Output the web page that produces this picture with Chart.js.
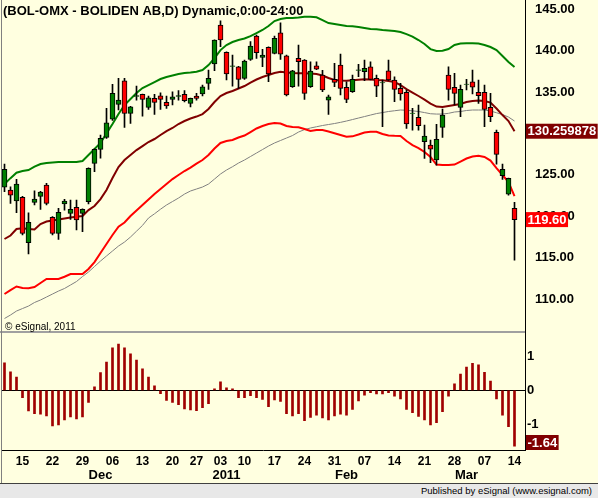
<!DOCTYPE html>
<html>
<head>
<meta charset="utf-8">
<script src="https://cdn.jsdelivr.net/npm/chart.js@4.4.0/dist/chart.umd.min.js"></script>
<style>
  html, body { margin: 0; padding: 0; background: #FFFFE0; }
  #wrap { position: relative; width: 598px; height: 498px; overflow: hidden; background: #FFFFE0; }
  canvas { position: absolute; left: 0; }
  #priceChart { top: 0; }
  #oscChart { top: 333px; }
  #leftEdge { position: absolute; left: 1px; top: 0; width: 1px; height: 483px; background: #808080; }
  #footer { position: absolute; left: 0; top: 483px; width: 598px; height: 15px; box-sizing: border-box;
    border-top: 1px solid #404040; background: #E8E8E8; text-align: right; padding-right: 6px;
    font: 9.5px "Liberation Sans", Arial, sans-serif; line-height: 14px; color: #000; }
</style>
</head>
<body>
<div id="wrap">
  <canvas id="priceChart" width="598" height="333"></canvas>
  <canvas id="oscChart" width="598" height="152"></canvas>
  <div id="leftEdge"></div>
  <div id="footer">Published by eSignal (www.esignal.com)</div>
</div>
<script>
const dates = [
  '2010-11-10','2010-11-11','2010-11-12','2010-11-15','2010-11-16','2010-11-17','2010-11-18','2010-11-19','2010-11-22','2010-11-23',
  '2010-11-24','2010-11-25','2010-11-26','2010-11-29','2010-11-30','2010-12-01','2010-12-02','2010-12-03','2010-12-06','2010-12-07',
  '2010-12-08','2010-12-09','2010-12-10','2010-12-13','2010-12-14','2010-12-15','2010-12-16','2010-12-17','2010-12-20','2010-12-21',
  '2010-12-22','2010-12-23','2010-12-27','2010-12-28','2010-12-29','2010-12-30','2011-01-03','2011-01-04','2011-01-05','2011-01-07',
  '2011-01-10','2011-01-11','2011-01-12','2011-01-13','2011-01-14','2011-01-17','2011-01-18','2011-01-19','2011-01-20','2011-01-21',
  '2011-01-24','2011-01-25','2011-01-26','2011-01-27','2011-01-28','2011-01-31','2011-02-01','2011-02-02','2011-02-03','2011-02-04',
  '2011-02-07','2011-02-08','2011-02-09','2011-02-10','2011-02-11','2011-02-14','2011-02-15','2011-02-16','2011-02-17','2011-02-18',
  '2011-02-21','2011-02-22','2011-02-23','2011-02-24','2011-02-25','2011-02-28','2011-03-01','2011-03-02','2011-03-03','2011-03-04',
  '2011-03-07','2011-03-08','2011-03-09','2011-03-10','2011-03-11','2011-03-14'
];

const open = [
  123.50,123.17,121.84,122.29,116.81,121.68,122.41,123.77,119.87,117.94,
  121.48,120.36,121.08,120.36,121.76,126.39,128.08,129.52,131.70,133.50,
  136.35,132.42,134.45,134.71,133.14,134.23,134.54,133.75,134.11,134.45,
  134.71,133.62,134.51,134.75,136.04,138.37,143.07,139.78,138.08,138.04,
  136.64,138.93,141.74,139.17,140.38,139.66,142.14,139.37,135.63,139.05,
  138.85,135.63,138.16,137.04,134.02,136.52,138.24,135.56,135.02,137.60,
  137.44,138.04,136.64,136.08,137.56,136.44,135.43,134.95,132.40,131.94,
  128.99,128.59,126.79,130.73,137.04,135.56,133.14,135.90,136.23,134.95,
  134.95,133.14,130.13,124.89,122.68,120.96
];
const high = [
  126.30,123.56,124.46,122.40,120.43,123.08,123.00,123.97,119.95,120.96,
  122.04,121.96,121.96,120.90,125.85,128.15,129.80,133.02,135.92,136.64,
  136.64,133.25,135.71,134.75,134.50,134.71,134.90,134.50,135.02,135.15,
  135.15,134.26,134.83,135.83,137.64,141.30,143.59,139.85,139.45,138.10,
  138.85,141.06,141.86,140.14,140.45,141.74,143.35,139.45,137.60,140.66,
  138.90,138.64,138.64,137.60,134.63,138.45,139.57,136.23,137.04,138.33,
  138.85,138.64,137.04,136.44,138.85,136.83,136.04,135.23,133.02,133.42,
  131.01,129.20,131.09,132.94,138.04,137.24,135.83,136.52,137.64,136.44,
  135.83,134.83,130.40,126.30,124.60,121.68
];
const low = [
  122.96,121.56,120.43,117.74,115.45,121.36,120.84,121.36,117.74,117.22,
  120.75,119.63,118.34,118.13,121.48,125.37,127.00,129.40,131.55,132.82,
  130.73,131.21,134.02,132.09,132.90,132.30,132.90,133.00,133.42,134.02,
  133.80,133.20,134.02,134.51,135.31,137.56,140.45,136.44,135.71,135.43,
  136.50,138.80,139.05,138.04,136.23,139.60,138.93,134.51,135.55,135.71,
  134.11,135.55,137.70,135.02,132.30,135.63,134.63,133.70,134.95,136.83,
  136.35,136.45,134.42,130.80,136.40,133.82,134.02,130.61,130.40,130.40,
  126.99,126.46,126.18,129.52,134.02,133.42,132.01,135.23,134.75,133.62,
  130.80,131.41,126.30,124.46,122.56,114.72
];
const close = [
  125.66,122.56,123.89,117.94,119.27,122.08,122.93,121.56,117.94,120.48,
  121.84,120.84,119.55,120.84,125.78,128.08,129.40,131.28,134.83,134.02,
  132.42,133.21,134.55,134.11,134.30,133.75,134.11,133.30,134.42,134.55,
  133.94,134.23,134.23,135.63,136.64,141.26,141.26,137.16,138.15,136.52,
  138.73,140.54,139.73,139.45,137.16,141.47,139.57,134.63,137.56,138.64,
  134.83,137.52,137.76,135.23,134.42,136.16,135.43,134.11,136.52,137.68,
  137.85,136.52,135.71,136.14,136.44,135.31,134.75,131.13,132.44,130.92,
  129.68,128.11,129.28,132.21,135.31,134.83,135.31,135.95,135.56,134.54,
  132.90,132.01,127.47,125.66,124.58,119.60
];

const upperBand = [
  123.90,124.60,125.25,125.45,125.58,125.98,126.30,126.42,126.50,126.54,
  126.54,126.54,126.54,126.66,127.39,128.11,128.84,130.00,131.13,132.33,
  133.42,134.14,134.87,135.47,135.83,136.19,136.56,136.80,136.98,137.16,
  137.28,137.34,137.44,137.64,138.24,139.09,140.05,140.66,141.02,141.26,
  141.44,141.74,142.10,142.47,142.95,143.55,143.79,143.91,143.91,143.97,
  144.07,144.07,144.00,143.67,143.31,143.19,143.07,142.95,142.91,142.83,
  142.71,142.59,142.55,142.47,142.41,142.35,142.23,141.98,141.68,141.26,
  140.78,140.17,139.93,139.97,140.17,140.66,140.84,140.86,140.86,140.84,
  140.66,140.42,140.05,139.33,138.61,138.00
];
const midBand = [
  117.26,117.68,118.46,118.55,118.46,118.40,119.07,119.37,119.49,119.61,
  119.73,119.85,119.93,120.03,120.75,121.24,122.08,123.17,124.61,125.94,
  126.79,127.39,127.99,128.47,128.96,129.32,129.80,130.28,130.65,131.13,
  131.49,131.79,132.03,132.33,132.94,133.78,134.51,134.87,135.11,135.41,
  135.71,136.13,136.50,136.80,137.04,137.28,137.42,137.34,137.28,137.24,
  137.24,137.22,137.16,136.98,136.68,136.44,136.38,136.35,136.40,136.46,
  136.52,136.50,136.44,136.41,136.31,136.19,135.83,135.35,134.93,134.51,
  134.08,133.60,133.24,133.18,133.30,133.42,133.54,133.78,133.90,133.96,
  133.90,133.72,133.00,132.21,131.49,130.259878
];
const lowerBand = [
  110.62,111.10,111.53,111.35,111.31,111.47,111.95,112.43,112.43,112.43,
  112.71,113.03,113.03,113.03,113.64,114.48,115.57,116.65,117.74,118.74,
  119.25,120.03,120.69,121.36,122.02,122.68,123.29,123.89,124.49,124.98,
  125.46,125.88,126.36,126.79,127.39,128.17,128.84,129.08,129.20,129.50,
  129.74,130.16,130.59,130.89,131.13,131.25,131.19,130.89,130.77,130.73,
  130.52,130.28,130.40,130.40,130.22,130.01,129.80,129.60,129.64,129.86,
  130.10,130.20,130.20,129.92,129.74,129.70,129.68,129.08,128.59,128.23,
  127.75,127.15,126.24,126.18,126.18,126.24,126.60,126.97,127.21,127.30,
  127.15,126.72,125.82,124.98,124.13,122.44
];
const slowMa = [
  107.67,108.09,108.57,108.87,109.17,109.60,109.90,110.26,110.62,110.98,
  111.29,111.71,112.13,112.73,113.28,113.94,114.60,115.21,115.81,116.41,
  116.89,117.50,118.20,118.90,119.79,120.30,120.85,121.36,121.78,122.20,
  122.68,123.05,123.29,123.53,123.89,124.49,125.10,125.58,125.98,126.42,
  126.79,127.21,127.63,128.05,128.47,128.84,129.14,129.44,129.74,130.16,
  130.46,130.65,130.80,130.95,131.07,131.19,131.33,131.49,131.67,131.85,
  132.03,132.21,132.39,132.51,132.64,132.73,132.82,132.79,132.72,132.64,
  132.51,132.37,132.33,132.33,132.42,132.58,132.64,132.76,132.82,132.82,
  132.82,132.70,132.49,132.27,131.97,131.49
];

const osc = [
  0.81,0.54,0.39,-0.22,-0.61,-0.69,-0.70,-0.75,-1.05,-1.02,
  -0.87,-0.78,-0.84,-0.78,-0.36,0.10,0.52,0.83,1.25,1.36,
  1.25,1.07,0.89,0.63,0.39,0.13,-0.10,-0.30,-0.36,-0.42,
  -0.55,-0.58,-0.60,-0.51,-0.39,0.04,0.25,0.07,0.04,-0.22,
  -0.22,-0.16,-0.22,-0.27,-0.48,-0.28,-0.33,-0.69,-0.75,-0.69,
  -0.89,-0.80,-0.73,-0.81,-0.87,-0.75,-0.70,-0.73,-0.56,-0.31,
  -0.14,-0.07,-0.11,-0.11,-0.07,-0.17,-0.25,-0.56,-0.66,-0.77,
  -0.87,-1.02,-0.95,-0.63,-0.17,0.19,0.48,0.68,0.79,0.75,
  0.53,0.27,-0.25,-0.73,-1.07,-1.64
];

const priceTicks = [110, 115, 120, 125, 130, 135, 140, 145];
const oscTicks = [-1, 0, 1];
const weekTicks = [
  '2010-11-15','2010-11-22','2010-11-29','2010-12-06','2010-12-13','2010-12-20','2010-12-27',
  '2011-01-03','2011-01-10','2011-01-17','2011-01-24','2011-01-31','2011-02-07','2011-02-14',
  '2011-02-21','2011-02-28','2011-03-07','2011-03-14'
];
const monthTicks = [['2010-12-01', 'Dec'], ['2011-01-03', '2011'], ['2011-02-01', 'Feb'], ['2011-03-01', 'Mar']];

const FONT = '"Liberation Sans", Arial, sans-serif';
Chart.defaults.font.family = FONT;
Chart.defaults.color = '#000';
const last = dates.length - 1;
const pts = arr => arr.map((v, i) => ({ x: i, y: v }));

// no automatic label padding: chart areas must line up exactly
function fixBox(size) {
  return s => {
    if (s.isHorizontal()) s.height = size; else s.width = size;
    s.paddingTop = s.paddingBottom = s.paddingLeft = s.paddingRight = 0;
  };
}
const xRange = { type: 'linear', offset: false, min: -0.5, max: 86.75 };

function drawBadge(ctx, text, y, fill, a) {
  ctx.save();
  ctx.font = 'bold 13px ' + FONT;
  const w = ctx.measureText(text).width + 3, h = 15;
  const top = Math.max(a.top, Math.min(a.bottom - h, y - h / 2));
  ctx.fillStyle = fill;
  ctx.fillRect(a.right + 1, top, w, h);
  ctx.fillStyle = '#fff';
  ctx.textBaseline = 'middle';
  ctx.textAlign = 'left';
  ctx.fillText(text, a.right + 2.5, top + h / 2 + 0.5);
  ctx.restore();
}

const priceDecor = {
  id: 'priceDecor',
  afterDraw(chart) {
    const { ctx, chartArea: a, scales: { y } } = chart;
    ctx.save();
    ctx.fillStyle = '#000';
    ctx.fillRect(a.right, 0, 1, chart.height);
    ctx.fillStyle = '#A0A0A0';
    ctx.fillRect(0, chart.height - 2, a.right, 2);
    ctx.fillStyle = '#000';
    ctx.textBaseline = 'middle';
    ctx.font = 'bold 13px ' + FONT;
    ctx.fillText('(BOL-OMX - BOLIDEN AB,D) Dynamic,0:00-24:00', 3, 11);
    ctx.font = '10px ' + FONT;
    ctx.fillText('\u00A9 eSignal, 2011', 5, 327);
    ctx.restore();
    drawBadge(ctx, String(midBand[last]), y.getPixelForValue(midBand[last]), '#800000', a);
    drawBadge(ctx, close[last].toFixed(2), y.getPixelForValue(close[last]), '#FF0000', a);
  }
};

const oscDecor = {
  id: 'oscDecor',
  afterDraw(chart) {
    const { ctx, chartArea: a, scales: { x, y } } = chart;
    ctx.save();
    ctx.fillStyle = '#000';
    ctx.fillRect(a.right, 0, 1, a.bottom);
    ctx.font = 'bold 13px ' + FONT;
    ctx.textAlign = 'center';
    ctx.textBaseline = 'middle';
    monthTicks.forEach(([d, t]) => {
      ctx.fillText(t, x.getPixelForValue(dates.indexOf(d) + 1), a.bottom + 25);
    });
    ctx.restore();
    drawBadge(ctx, osc[last].toFixed(2), y.getPixelForValue(osc[last]), '#800000', a);
  }
};

const lineSet = (data, color, width) => ({
  type: 'line', data: pts(data), borderColor: color, borderWidth: width,
  pointRadius: 0, tension: 0, order: 2
});

new Chart(document.getElementById('priceChart'), {
  type: 'bar',
  data: {
    datasets: [
      {
        data: dates.map((d, i) => ({ x: i, y: [open[i], close[i]] })),
        backgroundColor: dates.map((d, i) => close[i] >= open[i] ? '#008000' : '#FF0000'),
        borderColor: '#000', borderWidth: 1, borderSkipped: false,
        barThickness: 5, grouped: false, order: 0
      },
      {
        data: dates.map((d, i) => ({ x: i, y: [low[i], high[i]] })),
        backgroundColor: '#000', borderWidth: 0,
        barThickness: 1, grouped: false, order: 1
      },
      lineSet(upperBand, '#008000', 2),
      lineSet(midBand, '#800000', 2),
      lineSet(lowerBand, '#FF0000', 2),
      lineSet(slowMa, '#808080', 1)
    ]
  },
  options: {
    responsive: false,
    animation: false,
    layout: { padding: { left: 1.5, top: 0, right: 0, bottom: 0 } },
    plugins: { legend: { display: false }, tooltip: { enabled: false } },
    scales: {
      x: { ...xRange, display: false },
      y: {
        position: 'right', min: 105.92, max: 146.09,
        afterFit: fixBox(73),
        afterBuildTicks: s => { s.ticks = priceTicks.map(v => ({ value: v })); },
        grid: { display: false },
        border: { display: false },
        ticks: { padding: 2, font: { size: 13, weight: 'bold' }, callback: v => v.toFixed(2) }
      }
    }
  },
  plugins: [priceDecor]
});

new Chart(document.getElementById('oscChart'), {
  type: 'bar',
  data: {
    datasets: [{ data: pts(osc), backgroundColor: '#A00000', barThickness: 2 }]
  },
  options: {
    responsive: false,
    animation: false,
    layout: { padding: { left: 1.5, top: 3, right: 0, bottom: 0 } },
    plugins: { legend: { display: false }, tooltip: { enabled: false } },
    scales: {
      x: {
        ...xRange,
        afterFit: fixBox(35),
        afterBuildTicks: s => { s.ticks = weekTicks.map(d => ({ value: dates.indexOf(d) })); },
        grid: { display: false, drawTicks: false },
        border: { display: true, color: '#000', width: 1 },
        ticks: {
          maxRotation: 0, minRotation: 0, padding: 4,
          font: { size: 12, weight: 'bold' },
          callback: v => dates[v].slice(8)
        }
      },
      y: {
        position: 'right', min: -1.756, max: 1.597,
        afterFit: fixBox(73),
        afterBuildTicks: s => { s.ticks = oscTicks.map(v => ({ value: v })); },
        grid: { drawTicks: false, color: c => c.tick && c.tick.value === 0 ? '#000' : 'rgba(0,0,0,0)' },
        border: { display: false },
        ticks: { padding: 2, font: { size: 13, weight: 'bold' }, callback: v => String(v) }
      }
    }
  },
  plugins: [oscDecor]
});
</script>
</body>
</html>
